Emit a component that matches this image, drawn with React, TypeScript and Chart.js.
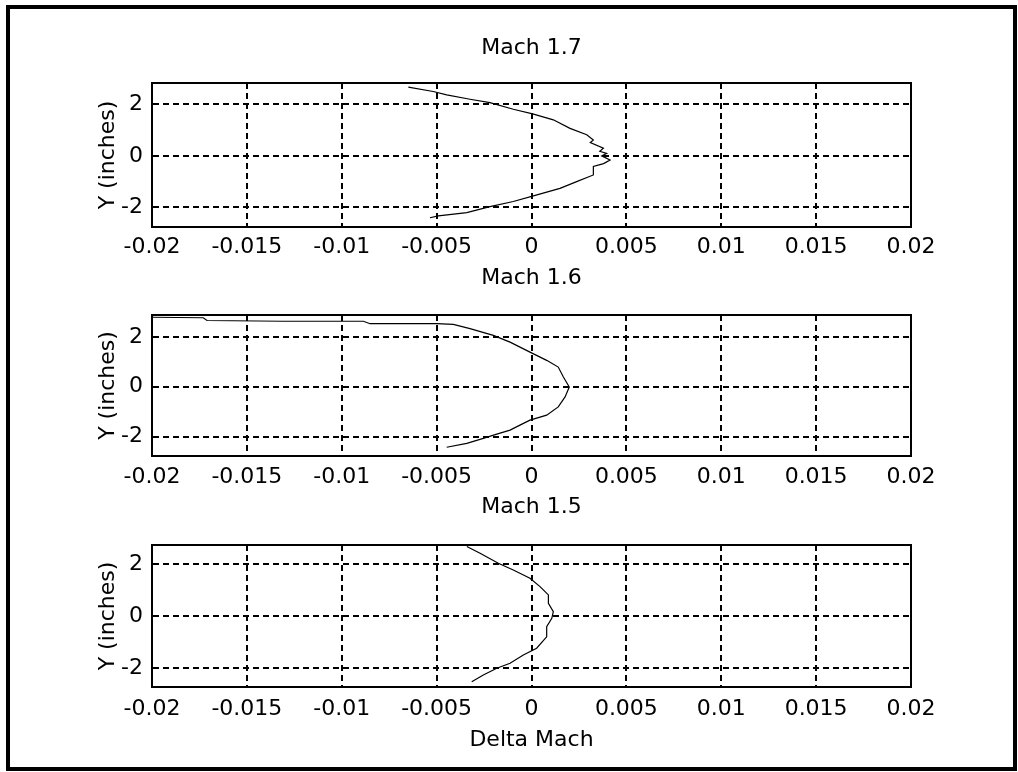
import React, { useEffect, useRef } from "react";
import { Chart, registerables } from "chart.js";

Chart.register(...registerables);

const xTickValues = [-0.02, -0.015, -0.01, -0.005, 0, 0.005, 0.01, 0.015, 0.02];
const xTickLabels = ["-0.02", "-0.015", "-0.01", "-0.005", "0", "0.005", "0.01", "0.015", "0.02"];
const yTickValues = [-2, 0, 2];
const yTickLabels = ["-2", "0", "2"];
const panelTitles = ["Mach 1.7", "Mach 1.6", "Mach 1.5"];
const yAxisTitle = "Y (inches)";
const xAxisTitle = "Delta Mach";

const mach17X = [-0.00649, -0.00518, -0.00447, -0.00324, -0.00219, -0.00096, 0.00006, 0.00115, 0.00203, 0.00291, 0.00326, 0.0031, 0.00379, 0.0036, 0.00396, 0.0037, 0.00414, 0.0038, 0.00326, 0.00326, 0.00238, 0.0015, 0.0001, -0.00096, -0.00219, -0.00341, -0.00491, -0.00535];
const mach17Y = [2.67, 2.5, 2.37, 2.2, 2.07, 1.81, 1.63, 1.4, 1.07, 0.82, 0.62, 0.52, 0.3, 0.18, 0.1, 0.0, -0.16, -0.3, -0.41, -0.74, -1.0, -1.26, -1.55, -1.77, -1.97, -2.2, -2.33, -2.4];

const mach16X = [-0.02, -0.0173, -0.0171, -0.0131, -0.00886, -0.00851, -0.005, -0.00412, -0.00324, -0.00201, -0.00113, -0.00008, 0.0008, 0.00141, 0.00168, 0.00199, 0.00177, 0.00141, 0.0008, -0.00008, -0.00061, -0.00113, -0.00183, -0.00254, -0.00341, -0.00447];
const mach16Y = [2.79, 2.77, 2.66, 2.63, 2.63, 2.53, 2.53, 2.5, 2.33, 2.06, 1.79, 1.39, 1.06, 0.79, 0.39, -0.01, -0.41, -0.81, -1.14, -1.34, -1.54, -1.74, -1.9, -2.07, -2.27, -2.43];

const mach15X = [-0.00341, -0.00271, -0.00175, -0.00096, -0.00008, 0.00045, 0.00089, 0.00089, 0.00115, 0.00107, 0.0008, 0.0008, 0.00027, -0.00043, -0.00113, -0.00183, -0.00254, -0.00315];
const mach15Y = [2.67, 2.41, 2.03, 1.77, 1.45, 1.13, 0.81, 0.49, 0.17, -0.09, -0.41, -0.8, -1.24, -1.5, -1.82, -2.01, -2.27, -2.53];

const seriesX = [mach17X, mach16X, mach15X];
const seriesY = [mach17Y, mach16Y, mach15Y];
const yMins = [-2.76, -2.78, -2.73];
const yMaxs = [2.83, 2.88, 2.73];

const FONT = "'DejaVu Sans', sans-serif";
const FS = 22;

const panels = [
  { top: 0, height: 260, titleTop: 35.3, titleBottom: 21.3, xAxisHeight: 33, tickPad: 7, showXTitle: false },
  { top: 260, height: 230, titleTop: 4.8, titleBottom: 23.8, xAxisHeight: 34, tickPad: 8, showXTitle: false },
  { top: 490, height: 282, titleTop: 3.8, titleBottom: 24.8, xAxisHeight: 85, tickPad: 9, showXTitle: true },
];

const boxPlugin = {
  id: "plotBox",
  afterDraw(chart: any) {
    const { ctx, chartArea: a } = chart;
    ctx.save();
    ctx.strokeStyle = "#000";
    ctx.lineWidth = 2;
    ctx.strokeRect(a.left, a.top, a.right - a.left, a.bottom - a.top);
    ctx.restore();
  },
};

function Panel({ idx }: { idx: number }) {
  const ref = useRef<HTMLCanvasElement>(null);
  const p = panels[idx];
  useEffect(() => {
    const xs = seriesX[idx];
    const ys = seriesY[idx];
    const data = xs.map((x, i) => ({ x, y: ys[i] }));
    const chart = new Chart(ref.current as HTMLCanvasElement, {
      type: "scatter",
      data: {
        datasets: [
          {
            data,
            showLine: true,
            borderColor: "#000",
            borderWidth: 1.2,
            pointRadius: 0,
            fill: false,
            tension: 0,
          },
        ],
      },
      plugins: [boxPlugin],
      options: {
        animation: false,
        responsive: false,
        devicePixelRatio: 1,
        layout: { padding: { left: 0, right: 107, top: 0, bottom: 0 } },
        plugins: {
          legend: { display: false },
          tooltip: { enabled: false },
          title: {
            display: true,
            fullSize: false,
            text: panelTitles[idx],
            color: "#000",
            font: { family: FONT, size: FS, weight: "normal" },
            padding: { top: p.titleTop, bottom: p.titleBottom },
          },
        },
        scales: {
          x: {
            type: "linear",
            min: -0.02,
            max: 0.02,
            afterBuildTicks: (scale: any) => {
              scale.ticks = xTickValues.map((v) => ({ value: v }));
            },
            afterFit: (scale: any) => {
              scale.height = p.xAxisHeight;
            },
            ticks: {
              color: "#000",
              font: { family: FONT, size: FS },
              padding: p.tickPad,
              maxRotation: 0,
              minRotation: 0,
              autoSkip: false,
              callback: (_v: any, i: number) => xTickLabels[i],
            },
            grid: { color: "#000", lineWidth: 2, drawTicks: false },
            border: { display: true, color: "#000", width: 2, dash: [6, 4] },
            title: {
              display: p.showXTitle,
              text: xAxisTitle,
              color: "#000",
              font: { family: FONT, size: FS },
              padding: { top: 0, bottom: 18.8 },
            },
          },
          y: {
            type: "linear",
            min: yMins[idx],
            max: yMaxs[idx],
            afterBuildTicks: (scale: any) => {
              scale.ticks = yTickValues.map((v) => ({ value: v }));
            },
            afterFit: (scale: any) => {
              scale.width = 152;
            },
            ticks: {
              color: "#000",
              font: { family: FONT, size: FS },
              padding: 9,
              autoSkip: false,
              callback: (_v: any, i: number) => yTickLabels[i],
            },
            grid: { color: "#000", lineWidth: 2, drawTicks: false },
            border: { display: true, color: "#000", width: 2, dash: [6, 4] },
            title: {
              display: true,
              text: yAxisTitle,
              color: "#000",
              font: { family: FONT, size: FS },
              padding: { top: 94.8, bottom: 0 },
            },
          },
        },
      } as any,
    });
    return () => chart.destroy();
  }, []);
  return (
    <canvas
      ref={ref}
      width={1018}
      height={p.height}
      style={{ position: "absolute", left: 0, top: p.top, width: 1018, height: p.height }}
    />
  );
}

export default function App() {
  return (
    <div style={{ position: "absolute", left: 0, top: 0, width: 1018, height: 772, background: "#fff", overflow: "hidden" }}>
      <div
        style={{
          position: "absolute",
          left: 6,
          top: 5,
          width: 1011,
          height: 766,
          border: "4px solid #000",
          boxSizing: "border-box",
        }}
      />
      {panels.map((_, i) => (
        <Panel key={i} idx={i} />
      ))}
    </div>
  );
}
